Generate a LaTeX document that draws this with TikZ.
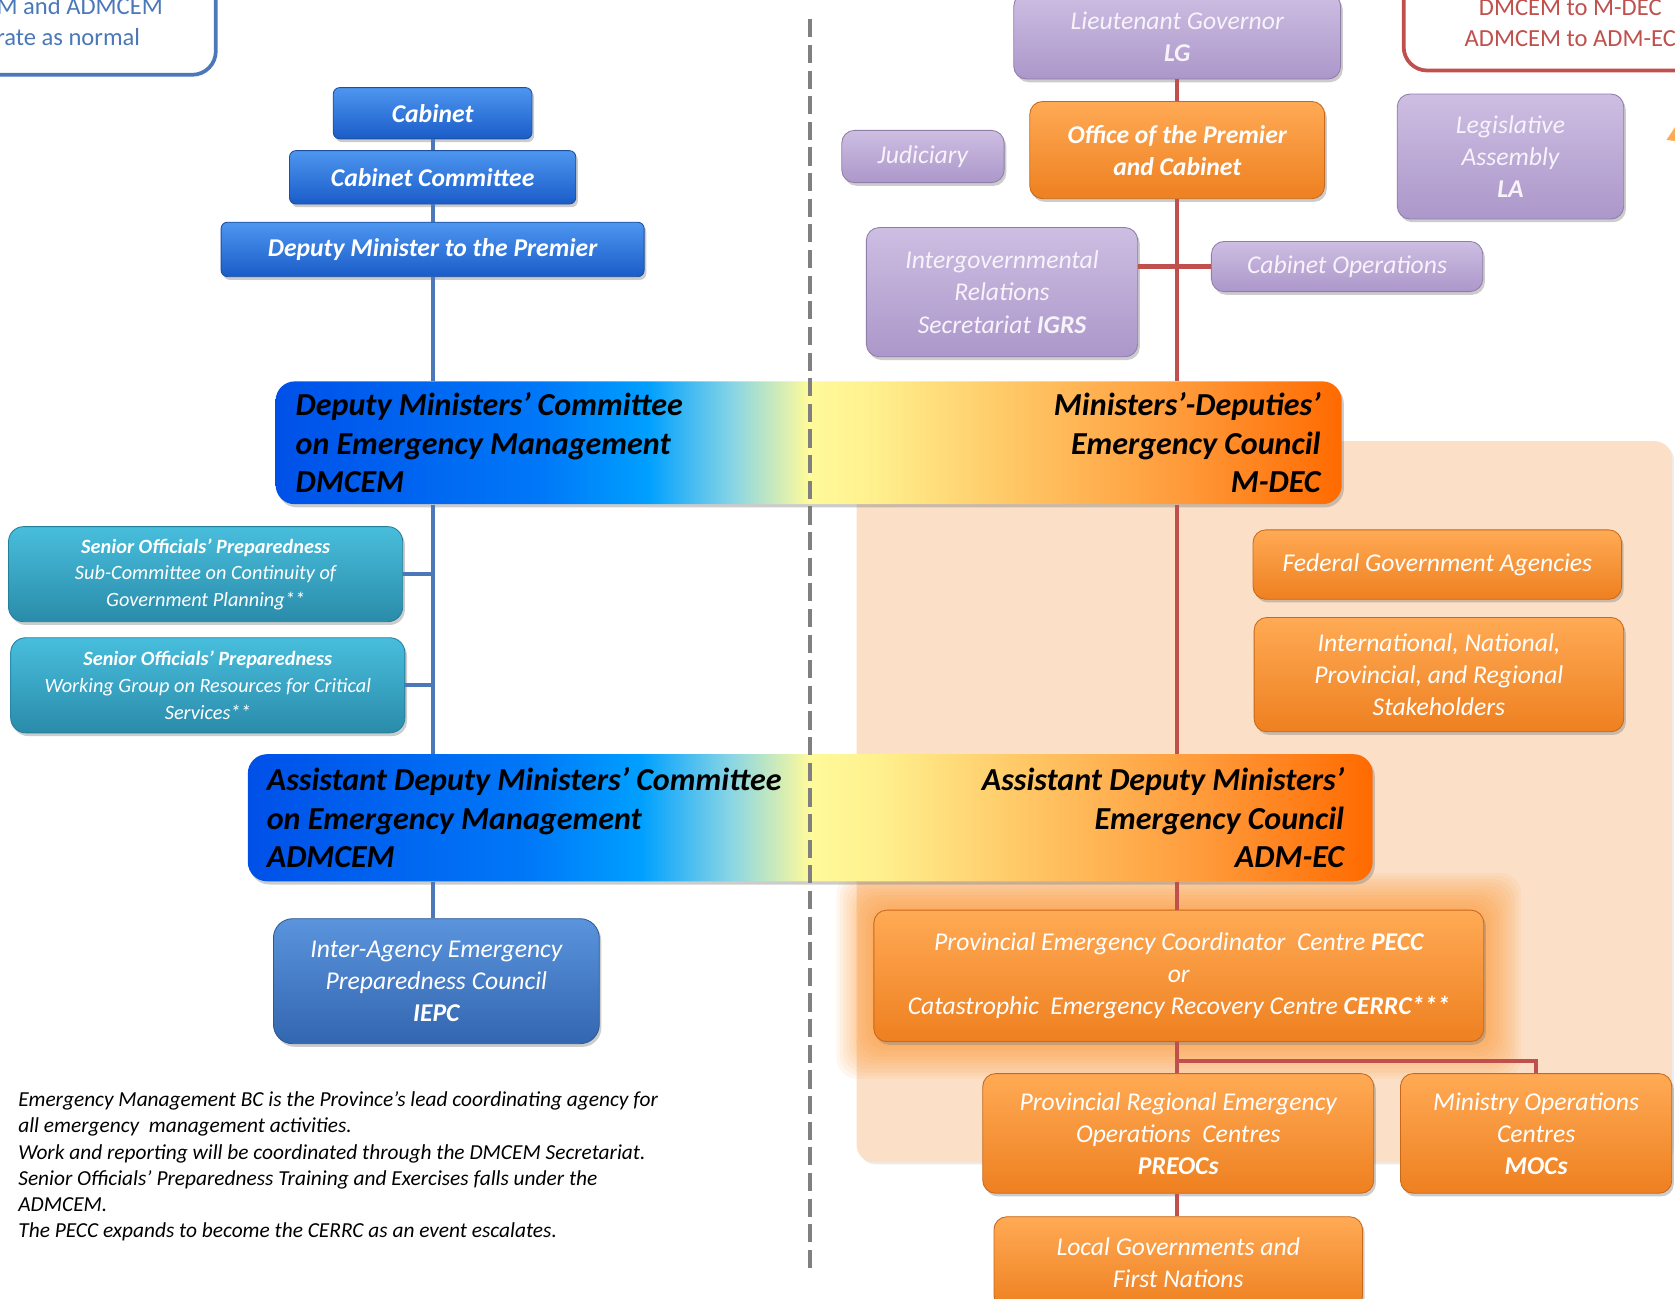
\documentclass[tikz,border=0pt]{standalone}
\usepackage{fontspec}
\setmainfont{Carlito}
\usetikzlibrary{shadows}
\definecolor{cabtop}{HTML}{4D96F0}
\definecolor{cabbot}{HTML}{1A5CC8}
\definecolor{cabline}{HTML}{1D4F9C}
\definecolor{soptop}{HTML}{48BEDC}
\definecolor{sopbot}{HTML}{2A8BAA}
\definecolor{sopline}{HTML}{237F9A}
\definecolor{iepctop}{HTML}{5A94DC}
\definecolor{iepcbot}{HTML}{3366B0}
\definecolor{iepcline}{HTML}{2C5A96}
\definecolor{govtop}{HTML}{CDBEE2}
\definecolor{govbot}{HTML}{AC97CA}
\definecolor{govline}{HTML}{8F7DAA}
\definecolor{govtext}{HTML}{F7F3FB}
\definecolor{ectop}{HTML}{FFAA55}
\definecolor{ecbot}{HTML}{EE8020}
\definecolor{ecline}{HTML}{C8681A}
\definecolor{peach}{HTML}{FBDFC7}
\definecolor{glow}{HTML}{FF9326}
\definecolor{linkred}{HTML}{C0504D}
\definecolor{linkblue}{HTML}{4A78B8}
\definecolor{notegray}{HTML}{808080}
\definecolor{emA}{HTML}{0050E8}
\definecolor{emB}{HTML}{0078F8}
\definecolor{emC}{HTML}{00A0FF}
\definecolor{emD}{HTML}{8AD6E4}
\definecolor{emE}{HTML}{FFFA9A}
\definecolor{emF}{HTML}{FFF08E}
\definecolor{emG}{HTML}{FFC463}
\definecolor{emH}{HTML}{FF9A3A}
\definecolor{emI}{HTML}{FF6A00}
\pgfdeclarehorizontalshading{emgrad}{100bp}{color(0bp)=(emA); color(25bp)=(emA); color(37.5bp)=(emB); color(42.5bp)=(emC); color(46.5bp)=(emD); color(50bp)=(emE); color(53bp)=(emF); color(60bp)=(emG); color(67.5bp)=(emH); color(75bp)=(emI); color(100bp)=(emI)}

\begin{document}
\begin{tikzpicture}[x=1pt,y=-1pt]
\tikzstyle{every node}+=[inner sep=0pt, align=center]
\tikzstyle{box}=[rectangle, rounded corners=12pt, line width=0.8pt, text=white, drop shadow={opacity=0.4, shadow xshift=2pt, shadow yshift=-3pt}]
\tikzstyle{cabbox}=[box, rounded corners=6pt, draw=cabline, top color=cabtop, bottom color=cabbot, font=\fontsize{24}{30}\selectfont\bfseries\itshape]
\tikzstyle{sopbox}=[box, rounded corners=14pt, draw=sopline, top color=soptop, bottom color=sopbot, font=\fontsize{19}{25}\selectfont\itshape]
\tikzstyle{iepcbox}=[box, rounded corners=18pt, draw=iepcline, top color=iepctop, bottom color=iepcbot, font=\fontsize{24}{30}\selectfont\itshape]
\tikzstyle{govbox}=[box, draw=govline, top color=govtop, bottom color=govbot, text=govtext, font=\fontsize{24}{30}\selectfont\itshape]
\tikzstyle{ecbox}=[box, draw=ecline, top color=ectop, bottom color=ecbot, font=\fontsize{24}{30}\selectfont\itshape]
\tikzstyle{bigbar}=[box, rounded corners=18pt, shade, shading=emgrad]
\tikzstyle{bartext}=[text=black, font=\fontsize{30}{36}\selectfont\bfseries\itshape]
\tikzstyle{notebox}=[rectangle, rounded corners=22pt, line width=3.5pt, fill=white]
\tikzstyle{notetext}=[font=\fontsize{23}{29}\selectfont]
\tikzstyle{blueline}=[draw=linkblue, line width=4pt]
\tikzstyle{redline}=[draw=linkred, line width=4pt]
\useasboundingbox (0,0) rectangle (1568,1216);
\clip (0,0) rectangle (1568,1216);
\fill[white] (0,0) rectangle (1568,1216);
\fill[peach, rounded corners=16pt, drop shadow={opacity=0.15, shadow xshift=2pt, shadow yshift=-2pt}] (802,413) rectangle (1565,1088);
\foreach \g in {2,5,...,35}
  \fill[glow, opacity=0.07, rounded corners=20pt] (818-\g,852-\g) rectangle (1389+\g,975+\g);

\node[notebox, draw=linkblue, minimum width=308pt, minimum height=130pt] (noteleft) at (48,5) {};
\node[notetext, text=linkblue] (notelefttxt) at (46,21.5) {DMCEM and ADMCEM\\operate as normal};
\node[notebox, draw=linkred, minimum width=312pt, minimum height=106pt] (noteright) at (1470,13) {};
\node[notetext, text=linkred] (noterighttxt) at (1470,21.5) {DMCEM to M-DEC\\ADMCEM to ADM-EC};
\fill[ectop] (1560,131) -- (1568,119) -- (1568,132) -- cycle;

\node[cabbox, minimum width=186pt, minimum height=48pt] (cab) at (405,106) {Cabinet};
\node[cabbox, minimum width=268pt, minimum height=50pt] (cabcom) at (405,166) {Cabinet Committee};
\node[cabbox, minimum width=396pt, minimum height=51pt] (dmp) at (405,233.5) {Deputy Minister to the Premier};
\node[bigbar, minimum width=998pt, minimum height=115pt] (dmcem) at (757,414.5) {};
\node[bartext, anchor=west, align=left] (dmcemtxt) at ([xshift=19pt]dmcem.west) {Deputy Ministers' Committee\\on Emergency Management\\DMCEM};
\node[bartext, anchor=east, align=right] (mdectxt) at ([xshift=-20pt]dmcem.east) {Ministers'-Deputies'\\Emergency Council\\M-DEC};
\node[sopbox, minimum width=369pt, minimum height=89pt] (sop1) at (192.5,537.5) {\textbf{Senior Officials' Preparedness}\\Sub-Committee on Continuity of\\Government Planning**};
\node[sopbox, minimum width=369pt, minimum height=89pt] (sop2) at (194.5,641.5) {\textbf{Senior Officials' Preparedness}\\Working Group on Resources for Critical\\Services**};
\node[bigbar, minimum width=1053pt, minimum height=119pt] (admcem) at (758.5,765.5) {};
\node[bartext, anchor=west, align=left] (admcemtxt) at ([xshift=18pt]admcem.west) {Assistant Deputy Ministers' Committee\\on Emergency Management\\ADMCEM};
\node[bartext, anchor=east, align=right] (admectxt) at ([xshift=-27pt]admcem.east) {Assistant Deputy Ministers'\\Emergency Council\\ADM-EC};
\node[iepcbox, minimum width=305pt, minimum height=117pt] (iepc) at (408.5,918.5) {Inter-Agency Emergency\\Preparedness Council\\\textbf{IEPC}};

\node[govbox, minimum width=306pt, minimum height=80pt] (lg) at (1102,34) {Lieutenant Governor\\\textbf{LG}};
\node[ecbox, minimum width=276pt, minimum height=91pt, font=\fontsize{24}{30}\selectfont\bfseries\itshape] (office) at (1102,140.5) {Office of the Premier\\and Cabinet};
\node[govbox, minimum width=152pt, minimum height=49pt] (judic) at (864,146.5) {Judiciary};
\node[govbox, minimum width=212pt, minimum height=117pt] (la) at (1414,146.5) {Legislative\\Assembly\\\textbf{LA}};
\node[govbox, minimum width=254pt, minimum height=121pt] (igrs) at (938,273.5) {Intergovernmental\\Relations\\Secretariat \textbf{IGRS}};
\node[govbox, minimum width=254pt, minimum height=47pt] (cabops) at (1261,249.5) {Cabinet Operations};
\node[ecbox, minimum width=345pt, minimum height=65pt] (fedgov) at (1345.5,528.5) {Federal Government Agencies};
\node[ecbox, minimum width=346pt, minimum height=107pt] (intl) at (1347,631.5) {International, National,\\Provincial, and Regional\\Stakeholders};
\node[ecbox, minimum width=571pt, minimum height=123pt] (pecc) at (1103.5,913.5) {Provincial Emergency Coordinator\ \ Centre \textbf{PECC}\\or\\Catastrophic\ \ Emergency Recovery Centre \textbf{CERRC***}};
\node[ecbox, minimum width=366pt, minimum height=112pt] (preocs) at (1103,1061) {Provincial Regional Emergency\\Operations\ \ Centres\\\textbf{PREOCs}};
\node[ecbox, minimum width=254pt, minimum height=112pt] (mocs) at (1438,1061) {Ministry Operations\\Centres\\\textbf{MOCs}};
\node[ecbox, minimum width=345pt, minimum height=86pt] (localgov) at (1103,1182) {Local Governments and\\First Nations};

\node[anchor=west, align=left, font=\fontsize{20}{24.6}\selectfont\itshape] (notes) at (17,1092) {Emergency Management BC is the Province's lead coordinating agency for\\all emergency\ \ management activities.\\Work and reporting will be coordinated through the DMCEM Secretariat.\\Senior Officials' Preparedness Training and Exercises falls under the\\ADMCEM.\\The PECC expands to become the CERRC as an event escalates.};

\draw[blueline] (cab.south) -- (cabcom.north);
\draw[blueline] (cabcom.south) -- (dmp.north);
\draw[blueline] (dmp.south) -- (dmp.south |- dmcem.north);
\draw[blueline] (dmcem.south -| dmp.south) -- (admcem.north -| dmp.south);
\draw[blueline] (sop1.east) -- (sop1.east -| dmp.south);
\draw[blueline] (sop2.east) -- (sop2.east -| dmp.south);
\draw[blueline] (admcem.south -| dmp.south) -- (iepc.north -| dmp.south);

\draw[redline] (lg.south) -- (office.north);
\draw[redline] (office.south) -- (office.south |- dmcem.north);
\draw[redline] (igrs.east |- cabops.west) -- (cabops.west);
\draw[redline] (dmcem.south -| office.south) -- (admcem.north -| office.south);
\draw[redline] (admcem.south -| office.south) -- (office.south |- pecc.north);
\draw[redline] (pecc.south -| office.south) -- (preocs.north -| office.south);
\coordinate (fork) at (1102,993);
\draw[redline] (fork) -| (mocs.north);
\draw[redline] (preocs.south -| office.south) -- (localgov.north -| office.south);

\draw[notegray, line width=4pt, dash pattern=on 17pt off 7pt] (758,18) -- (758,1190);
\end{tikzpicture}
\end{document}
